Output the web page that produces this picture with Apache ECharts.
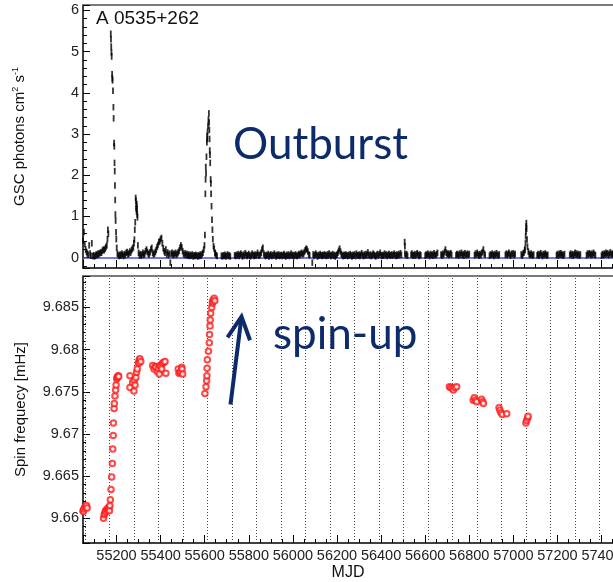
<!DOCTYPE html>
<html>
<head>
<meta charset="utf-8">
<script src="https://cdn.jsdelivr.net/npm/echarts@6/dist/echarts.min.js"></script>
<style>
  html, body { margin: 0; padding: 0; background: #fff; overflow: hidden; }
  #chart { width: 640px; height: 582px; }
</style>
</head>
<body>
<div id="chart"></div>
<script>
// GSC count rate of A 0535+262, one sample every 4 days from gscStart (null = no coverage)
const gscStart = 55048;
const gscStep = 4;
const gscRate = [
  0.42,0.62,0.33,0.2,0.14,0.1,0.07,0.3,0.1,0.05,0.35,0.04,0.06,0.03,0.05,0.08,0.06,0.1,0.08,0.11,0.13,0.12,0.17,0.2,0.18,
  0.22,0.26,null,null,null,null,null,null,null,null,null,null,null,null,0.1,0.06,0.04,0.08,0.05,0.1,0.07,0.04,0.09,0.06,0.12,
  0.14,0.08,0.1,0.15,0.12,0.18,0.22,null,null,null,null,null,null,0.12,0.06,0.09,0.05,0.08,0.12,0.07,0.1,0.16,0.2,0.14,0.1,
  0.08,0.13,0.2,0.24,0.12,0.08,0.1,0.14,0.19,0.26,0.31,0.38,0.4,0.45,0.48,0.35,0.23,0.16,0.12,0.2,0.08,0.13,0.06,0.1,-0.12,
  0.09,0.12,0.06,0.1,0.08,0.12,0.07,0.1,0.13,0.17,0.24,0.3,0.25,0.16,0.1,0.07,0.11,0.06,0.09,0.05,0.08,0.04,0.07,0.05,0.08,
  0.03,0.06,0.04,0.07,0.05,0.03,0.06,0.04,0.08,0.05,0.09,0.12,null,null,null,null,null,null,null,null,null,null,null,null,null,
  0.1,0.06,0.04,null,null,null,null,0.05,0.03,0.06,0.04,0.07,0.03,0.05,0.08,0.04,0.06,0.03,null,null,null,null,0.06,0.04,0.07,
  0.05,0.09,0.04,0.07,0.1,0.06,0.03,0.08,0.05,0.11,0.07,0.04,0.06,0.09,0.05,0.03,0.07,0.1,0.06,0.04,0.08,0.05,0.07,0.12,0.06,
  0.05,0.08,0.12,0.2,0.24,0.1,0.06,0.04,0.07,0.05,0.09,0.03,0.06,0.08,0.04,0.07,0.05,0.1,0.06,0.03,0.07,0.05,0.08,0.04,0.06,
  0.07,0.04,0.06,0.09,0.05,0.03,0.07,0.05,0.08,0.04,0.06,0.1,0.05,0.07,0.03,0.06,0.08,0.05,0.04,0.07,0.09,0.06,0.1,0.12,0.08,
  0.1,0.14,0.18,0.22,0.2,0.15,0.08,0.06,null,null,-0.12,0.08,0.04,0.07,0.1,0.06,0.03,0.07,0.05,0.09,0.06,0.04,0.07,0.05,0.08,
  0.06,0.04,0.08,0.05,0.1,0.07,0.04,0.06,0.09,0.05,0.07,0.03,0.06,0.08,0.12,0.17,0.22,0.15,0.09,0.06,0.04,0.07,0.05,0.08,0.06,
  0.04,0.07,0.05,0.09,0.06,0.03,0.07,0.05,0.08,0.04,0.1,0.06,0.05,0.08,0.04,0.07,0.11,0.06,0.04,0.08,0.05,0.09,0.06,0.13,0.07,
  0.05,0.08,0.04,0.06,0.1,0.07,0.05,0.03,0.07,0.09,0.05,0.08,0.12,0.06,0.04,0.07,0.05,0.1,0.06,0.08,0.04,0.07,0.09,0.05,0.06,
  0.08,0.05,0.07,0.1,0.06,0.04,0.08,0.05,0.09,0.06,0.11,0.07,null,null,null,0.1,0.06,0.09,0.05,null,null,null,0.07,0.1,0.05,
  0.06,0.09,0.05,0.08,0.11,0.07,0.04,0.08,0.06,null,null,null,null,0.05,0.08,0.06,0.1,0.07,0.04,0.09,0.06,0.08,0.05,0.11,0.07,
  0.06,0.09,0.12,null,null,null,0.08,0.05,0.1,0.07,0.14,0.2,0.12,0.08,0.1,0.06,0.09,0.11,0.07,null,null,null,null,0.06,0.09,
  0.08,0.05,0.1,0.07,0.12,0.06,0.09,0.05,0.11,0.08,0.06,0.1,0.07,0.09,null,null,null,null,null,0.06,0.1,0.07,0.12,0.08,0.05,
  0.09,0.06,0.11,0.14,0.2,0.1,0.07,null,null,null,null,0.05,0.08,0.06,0.1,0.07,0.04,0.09,0.06,0.11,0.07,0.05,0.08,null,null,
  null,null,null,null,0.07,0.1,0.06,0.09,0.12,0.07,0.05,0.1,0.08,0.11,0.06,0.09,null,null,null,null,null,null,0.08,0.05,0.1,
  0.12,0.18,null,null,null,0.15,0.09,0.06,0.1,0.07,0.05,0.08,null,null,null,0.06,0.09,0.05,0.08,0.11,0.07,0.04,0.09,0.06,0.1,
  0.08,0.05,0.07,null,null,null,null,null,null,null,null,null,0.06,0.09,0.05,0.1,0.07,0.11,0.06,0.08,0.05,0.09,null,null,null,
  null,null,0.07,0.1,0.06,0.09,0.05,0.08,0.12,0.07,0.1,0.06,0.09,0.05,0.08,null,null,null,null,null,null,0.06,0.1,0.07,0.11,
  0.09,0.06,0.1,0.07,0.12,0.08,0.06,null,null,null,null,null,null,0.05,0.09,0.06,0.1,0.07,0.12,0.08,0.11,0.06,0.09,0.13,0.07,
  0.1,0.08
];

// daily points through the outbursts and short flares [MJD, rate]
const gscFlares = [
  [55156,0.3],[55159,0.45],[55161,0.68],[55163,0.58],
  [55174,5.43],[55175,5.3],[55176,5.12],[55177,4.98],[55178,4.88],[55180,4.45],[55181,4.35],[55182,4.3],
  [55184,4.05],[55186,3.65],[55187,3.38],[55189,2.78],[55190,2.7],[55191,2.3],[55192,2.1],[55193,1.75],
  [55194,1.4],[55195,1.05],[55196,0.9],[55198,0.62],[55199,0.45],[55201,0.24],
  [55276,0.25],[55279,0.35],[55281,0.44],[55283,0.68],[55285,0.86],[55287,1.45],[55288,1.38],[55289,1.2],
  [55290,1.25],[55291,1.12],[55292,1.3],[55293,1.18],[55294,1.05],[55295,0.98],[55297,0.3],
  [55596,0.2],[55599,0.3],[55601,0.55],[55603,1.55],[55604,1.9],[55605,2.2],[55606,2.05],[55608,2.45],
  [55610,2.8],[55611,2.95],[55612,2.88],[55613,3.05],[55615,3.2],[55617,3.35],[55619,3.5],[55620,3.28],
  [55621,3.1],[55622,2.88],[55623,2.6],[55624,2.5],[55625,2.3],[55627,1.9],[55628,1.8],[55629,1.55],
  [55631,1.25],[55633,0.92],[55635,0.68],[55637,0.45],[55640,0.28],[55643,0.22],[55647,0.12],
  [56507,0.38],[56508,0.28],
  [57052,0.2],[57055,0.35],[57056,0.52],[57057,0.64],[57058,0.76],[57059,0.84],[57060,0.7],[57062,0.44],[57064,0.27]
];

// pulse frequency measurements [MJD, mHz]
const spinFreq = [
  [55048,9.6609],[55050,9.6608],[55052,9.6611],[55056,9.6613],[55060,9.6614],[55064,9.6615],[55067,9.6612],
  [55141,9.6600],[55144,9.6604],[55147,9.6606],[55150,9.6609],[55153,9.6608],[55157,9.6611],[55160,9.6610],
  [55163,9.6612],[55166,9.6613],[55168,9.6609],[55170,9.6615],[55172,9.6622],
  [55175,9.6634],[55178,9.6649],[55181,9.6665],[55183,9.6682],[55185,9.6698],[55186,9.6713],[55189,9.6730],
  [55190,9.6736],[55193,9.6745],[55196,9.6752],[55198,9.6758],[55201,9.6765],[55203,9.6767],[55205,9.6768],
  [55208,9.6769],[55210,9.6768],
  [55261,9.6769],[55261,9.6755],[55273,9.6761],[55279,9.6751],[55281,9.6764],[55284,9.6758],[55288,9.6767],
  [55291,9.6773],[55294,9.6777],[55299,9.6784],[55303,9.6788],[55303,9.6784],[55306,9.6789],[55310,9.6786],
  [55364,9.6781],[55370,9.6777],[55375,9.6780],[55379,9.6779],[55385,9.6774],[55390,9.6778],[55394,9.6771],
  [55397,9.6781],[55401,9.6780],[55405,9.6777],[55409,9.6784],[55415,9.6785],[55420,9.6786],[55424,9.6772],
  [55480,9.6777],[55483,9.6772],[55488,9.6773],[55491,9.6774],[55496,9.6779],[55497,9.6777],[55500,9.6771],
  [55601,9.6748],[55606,9.6756],[55609,9.6763],[55610,9.6769],[55611,9.6778],[55612,9.6788],[55617,9.6798],
  [55621,9.6808],[55622,9.6818],[55624,9.6828],[55625,9.6835],[55627,9.6843],[55632,9.6850],[55635,9.6855],
  [55636,9.6857],[55639,9.6859],[55643,9.6861],[55646,9.6858],
  [56710,9.6756],[56716,9.6755],[56723,9.6754],[56728,9.6752],[56735,9.6755],[56743,9.6756],
  [56818,9.6740],[56823,9.6743],[56829,9.6740],[56834,9.6738],[56856,9.6741],[56861,9.6738],[56864,9.6736],
  [56935,9.6731],[56939,9.6728],[56944,9.6725],[56950,9.6723],[56970,9.6724],
  [57057,9.6713],[57060,9.6716],[57065,9.6719],[57067,9.6721]
];

// periastron passages (MJD)
const periastron = [
  55057, 55168, 55279, 55391, 55502, 55613, 55724, 55835, 55946, 56057, 56168,
  56279, 56391, 56502, 56613, 56724, 56835, 56946, 57057, 57168, 57279, 57390
];

// spin-up arrow: tail and tip [MJD, mHz, MJD, mHz]
const spinUpArrow = [[55717, 9.6735, 55767, 9.6839]];

const mjdRange = [55048, 57452];
const rateRange = [-0.249, 6.128];
const freqRange = [9.65706, 9.68873];

const ratePoints = [];
gscRate.forEach(function (v, i) {
  if (v !== null) ratePoints.push([gscStart + i * gscStep, v]);
});
gscFlares.forEach(function (p) { ratePoints.push(p); });

const labelFont = { fontFamily: 'Liberation Sans', fontSize: 14.5, color: '#222' };
const navy = '#0d2a6b';
const plainNumber = function (v) { return String(v); };

function mjdAxis(gridIndex, withLabels) {
  return {
    type: 'value', gridIndex: gridIndex, position: 'bottom',
    min: mjdRange[0], max: mjdRange[1], splitNumber: 12,
    name: withLabels ? 'MJD' : '', nameLocation: 'middle', nameGap: 22,
    nameTextStyle: { fontFamily: 'Liberation Sans', fontSize: 16, color: '#111' },
    axisLine: { show: true, onZero: false, lineStyle: { color: '#000', width: 1.5 } },
    axisTick: { show: true, inside: true, length: 8, lineStyle: { color: '#000', width: 1 } },
    minorTick: { show: true, splitNumber: 4, length: 4, lineStyle: { color: '#000', width: 1 } },
    axisLabel: Object.assign({ show: withLabels, margin: 5, showMinLabel: false, showMaxLabel: false,
      formatter: plainNumber, hideOverlap: false }, labelFont),
    splitLine: { show: false }
  };
}
function frameTop(gridIndex) {
  return {
    type: 'value', gridIndex: gridIndex, position: 'top',
    min: mjdRange[0], max: mjdRange[1],
    axisLine: { show: true, onZero: false, lineStyle: { color: '#7a7a7a', width: 2 } },
    axisTick: { show: false }, axisLabel: { show: false }, splitLine: { show: false }
  };
}

const option = {
  animation: false,
  backgroundColor: '#fff',
  textStyle: { fontFamily: 'Liberation Sans' },
  grid: [
    { left: 83, right: 27, top: 5, height: 263 },
    { left: 83, right: 27, top: 276, height: 267 }
  ],
  xAxis: [mjdAxis(0, false), frameTop(0), mjdAxis(1, true), frameTop(1)],
  yAxis: [
    {
      type: 'value', gridIndex: 0, min: rateRange[0], max: rateRange[1], splitNumber: 6,
      name: 'GSC photons cm{sup|2} s{sup|-1}', nameLocation: 'middle', nameGap: 55, nameRotate: 90,
      nameTextStyle: {
        fontFamily: 'Liberation Sans', fontSize: 15, color: '#111',
        rich: { sup: { fontSize: 9, verticalAlign: 'top', padding: [0, 0, 8, 0], fontFamily: 'Liberation Sans', color: '#111' } }
      },
      axisLine: { show: true, onZero: false, lineStyle: { color: '#000', width: 1.5 } },
      axisTick: { show: true, inside: true, length: 7, lineStyle: { color: '#000' } },
      minorTick: { show: true, splitNumber: 5, length: 4, lineStyle: { color: '#000' } },
      axisLabel: Object.assign({ margin: 4, showMinLabel: false, showMaxLabel: false }, labelFont),
      splitLine: { show: false }
    },
    {
      type: 'value', gridIndex: 1, min: freqRange[0], max: freqRange[1], splitNumber: 6,
      name: 'Spin frequecy [mHz]', nameLocation: 'middle', nameGap: 55, nameRotate: 90,
      nameTextStyle: { fontFamily: 'Liberation Sans', fontSize: 15, color: '#111' },
      axisLine: { show: true, onZero: false, lineStyle: { color: '#000', width: 1.5 } },
      axisTick: { show: true, inside: true, length: 7, lineStyle: { color: '#000' } },
      minorTick: { show: true, splitNumber: 5, length: 3, lineStyle: { color: '#000' } },
      axisLabel: Object.assign({ margin: 4, showMinLabel: false, showMaxLabel: false }, labelFont),
      splitLine: { show: false }
    }
  ],
  series: [
    {
      name: 'GSC rate', type: 'scatter', xAxisIndex: 0, yAxisIndex: 0,
      data: ratePoints, symbol: 'rect', symbolSize: [1.8, 6.5],
      itemStyle: { color: '#000' }, silent: true, z: 3,
      markLine: {
        silent: true, symbol: 'none', label: { show: false }, z: 2,
        lineStyle: { color: '#4b4bd8', width: 1.5, type: 'solid' },
        data: [{ yAxis: 0 }]
      }
    },
    {
      name: 'Spin frequency', type: 'scatter', xAxisIndex: 2, yAxisIndex: 1,
      data: spinFreq, symbol: 'emptyCircle', symbolSize: 5.5,
      itemStyle: { color: '#ff1a1a', borderColor: '#ff1a1a', borderWidth: 1.3 }, silent: true, z: 3,
      markLine: {
        silent: true, symbol: 'none', label: { show: false }, z: 1,
        lineStyle: { color: '#444', width: 1, type: [1, 2] },
        data: periastron.map(function (m) { return { xAxis: m }; })
      }
    },
    {
      name: 'spin-up arrow', type: 'custom', xAxisIndex: 2, yAxisIndex: 1, silent: true, z: 4,
      data: spinUpArrow,
      encode: { x: [0, 2], y: [1, 3] },
      renderItem: function (params, api) {
        const tail = api.coord([api.value(0), api.value(1)]);
        const tip = api.coord([api.value(2), api.value(3)]);
        const dx = tail[0] - tip[0], dy = tail[1] - tip[1];
        const len = Math.sqrt(dx * dx + dy * dy);
        const ux = dx / len, uy = dy / len;
        const a = 27 * Math.PI / 180, wing = 25;
        function rot(s) {
          const c = Math.cos(s * a), sn = Math.sin(s * a);
          return [tip[0] + wing * (ux * c - uy * sn), tip[1] + wing * (ux * sn + uy * c)];
        }
        const style = { stroke: navy, lineWidth: 4, fill: null, lineJoin: 'miter' };
        return {
          type: 'group',
          children: [
            { type: 'line', shape: { x1: tail[0], y1: tail[1], x2: tip[0] + ux * 1.5, y2: tip[1] + uy * 1.5 }, style: style },
            { type: 'polyline', shape: { points: [rot(1), tip, rot(-1)] }, style: style }
          ]
        };
      }
    }
  ],
  graphic: [
    { type: 'text', left: 96, top: 9, silent: true,
      style: { text: 'A 0535+262', fontFamily: 'Liberation Sans', fontSize: 19, fill: '#111' } },
    { type: 'text', left: 233, top: 123, silent: true,
      style: { text: 'Outburst', fontFamily: 'Lato', fontSize: 44, fill: navy } },
    { type: 'text', left: 273, top: 313, silent: true,
      style: { text: 'spin-up', fontFamily: 'Lato', fontSize: 44, fill: navy } }
  ]
};

const chart = echarts.init(document.getElementById('chart'), null, { renderer: 'canvas' });
chart.setOption(option);
</script>
</body>
</html>
